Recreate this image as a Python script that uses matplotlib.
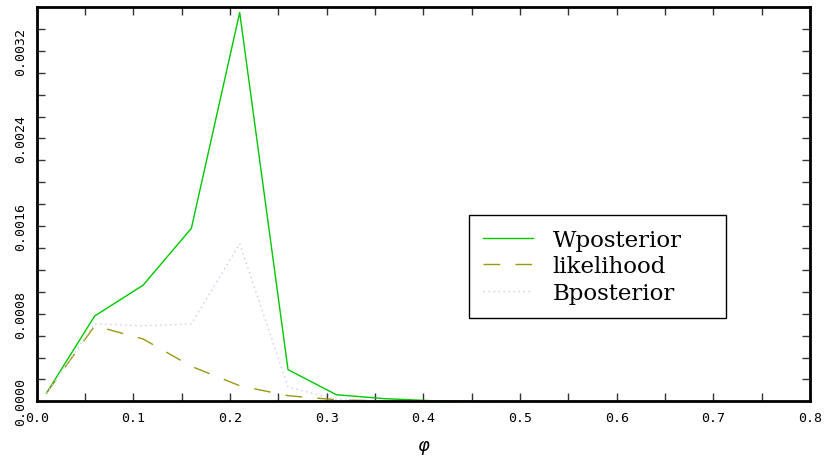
import matplotlib
matplotlib.use("Agg")
import matplotlib.pyplot as plt
from matplotlib.ticker import MultipleLocator, FormatStrFormatter

# values
phi = [0.01, 0.06, 0.11, 0.16, 0.21, 0.26, 0.31, 0.36, 0.41, 0.46,
       0.51, 0.56, 0.61, 0.66, 0.71]
w_posterior = [0.000074, 0.00078, 0.00106, 0.00158, 0.00355, 0.00029,
               0.000061, 0.000025, 0.000006, 0.000002, 0.0, 0.0, 0.0, 0.0, 0.0]
likelihood = [0.000074, 0.00069, 0.00057, 0.00032, 0.000143, 0.000052,
              0.000015, 0.000004, 0.000001, 0.0, 0.0, 0.0, 0.0, 0.0, 0.0]
b_posterior = [0.000074, 0.000707, 0.00069, 0.000707, 0.00144, 0.00013,
               0.00002, 0.000003, 0.0, 0.0, 0.0, 0.0, 0.0, 0.0, 0.0]
labels = ["Wposterior", "likelihood", "Bposterior"]

fig = plt.figure(figsize=(8.25, 4.6), dpi=100)
ax = fig.add_axes([0.0445, 0.1252, 0.9373, 0.8574])

ax.plot(phi, w_posterior, color="#00c800", lw=1.0, label=labels[0])
ax.plot(phi, likelihood, color="#999910", lw=1.0, dashes=(12, 11), label=labels[1])
ax.plot(phi, b_posterior, color="#c8c8ff", lw=1.0, dashes=(1, 2.6), label=labels[2])

ax.set_xlim(0, 0.8)
ax.set_ylim(0, 0.0036)

ax.xaxis.set_major_locator(MultipleLocator(0.1))
ax.xaxis.set_minor_locator(MultipleLocator(0.05))
ax.yaxis.set_major_locator(MultipleLocator(0.0008))
ax.yaxis.set_minor_locator(MultipleLocator(0.0002))
ax.xaxis.set_major_formatter(FormatStrFormatter("%.1f"))
ax.yaxis.set_major_formatter(FormatStrFormatter("%.4f"))

ax.tick_params(which="both", direction="in", top=True, right=True,
               length=6, width=1, color="#333333")
ax.tick_params(which="major", pad=7, labelsize=9.5)
for lab in ax.get_xticklabels() + ax.get_yticklabels():
    lab.set_family("DejaVu Sans Mono")
for lab in ax.get_yticklabels():
    lab.set_rotation(90)
    lab.set_va("center")

for sp in ax.spines.values():
    sp.set_linewidth(2)
    sp.set_color("black")

ax.set_xlabel(r"$\varphi$", fontsize=13, labelpad=10)

leg = ax.legend(loc="upper left", bbox_to_anchor=(0.559, 0.211, 0.333, 0.262),
                mode="expand",
                prop={"family": "DejaVu Serif", "size": 16.5},
                handlelength=2.2, handletextpad=0.85, labelspacing=0.2,
                borderpad=0.6, borderaxespad=0, fancybox=False,
                framealpha=1, edgecolor="black")
leg.get_frame().set_linewidth(1)

fig.savefig("out.png", dpi=100)
